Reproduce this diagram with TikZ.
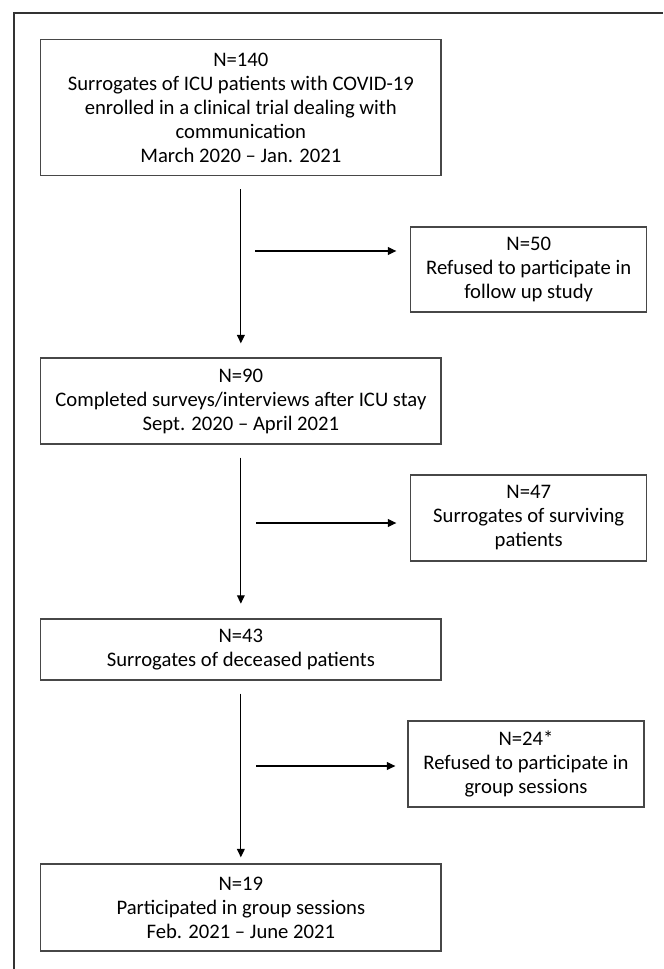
\documentclass[tikz,border=0pt]{standalone}
\usepackage{fontspec}
\setmainfont{Carlito}
\usetikzlibrary{arrows.meta}

\begin{document}
\begin{tikzpicture}[x=0.75pt, y=-0.75pt,
    font=\fontsize{15.5pt}{18pt}\selectfont,
    flowbox/.style={draw=black!72, line width=0.95pt, align=center, inner sep=0pt},
    mainbox/.style={flowbox, minimum width=300.2pt},
    sidebox/.style={flowbox, minimum width=177pt},
    flowarr/.style={line width=0.9pt, -{Triangle[length=6.3pt, width=5.8pt]}}]
  % coordinates are pixels of the page, y counted downwards
  \useasboundingbox (0,0) rectangle (663,969);
  \draw[black!80, line width=1pt] (14,969) -- (14,13) -- (663,13);
  % main column
  \node[mainbox, minimum height=102.2pt] (n140) at (240.85,107.6)
    {N=140\\Surrogates of ICU patients with COVID-19\\enrolled in a clinical trial dealing with\\communication\\March 2020 – Jan. 2021};
  \node[mainbox, minimum height=64.5pt] (n90) at (240.85,401)
    {N=90\\Completed surveys/interviews after ICU stay\\Sept. 2020 – April 2021};
  \node[mainbox, minimum height=45.8pt] (n43) at (240.85,649.5)
    {N=43\\Surrogates of deceased patients};
  \node[mainbox, minimum height=65.3pt] (n19) at (240.85,907.5)
    {N=19\\Participated in group sessions\\Feb. 2021 – June 2021};
  % exclusions on the right
  \node[sidebox, minimum height=63.8pt] (n50) at (528.7,269.5)
    {N=50\\Refused to participate in\\follow up study};
  \node[sidebox, minimum height=64.5pt] (n47) at (528.7,518)
    {N=47\\Surrogates of surviving\\patients};
  \node[sidebox, minimum height=64.5pt] (n24) at (526,764)
    {N=24*\\Refused to participate in\\group sessions};
  % arrows down the column
  \draw[flowarr, shorten <=9.75pt, shorten >=10.5pt] (n140) -- (n90);
  \draw[flowarr, shorten <=9.75pt, shorten >=11pt] (n90) -- (n43);
  \draw[flowarr, shorten <=9.75pt, shorten >=4.5pt] (n43) -- (n19);
  % side arrows, starting beside the column
  \coordinate (s50) at (255,251);
  \coordinate (s47) at (256,523);
  \coordinate (s24) at (256,766);
  \draw[flowarr, shorten >=10.3pt] (s50) -- (s50 -| n50.west);
  \draw[flowarr, shorten >=10.3pt] (s47) -- (s47 -| n47.west);
  \draw[flowarr, shorten >=9pt] (s24) -- (s24 -| n24.west);
\end{tikzpicture}
\end{document}
